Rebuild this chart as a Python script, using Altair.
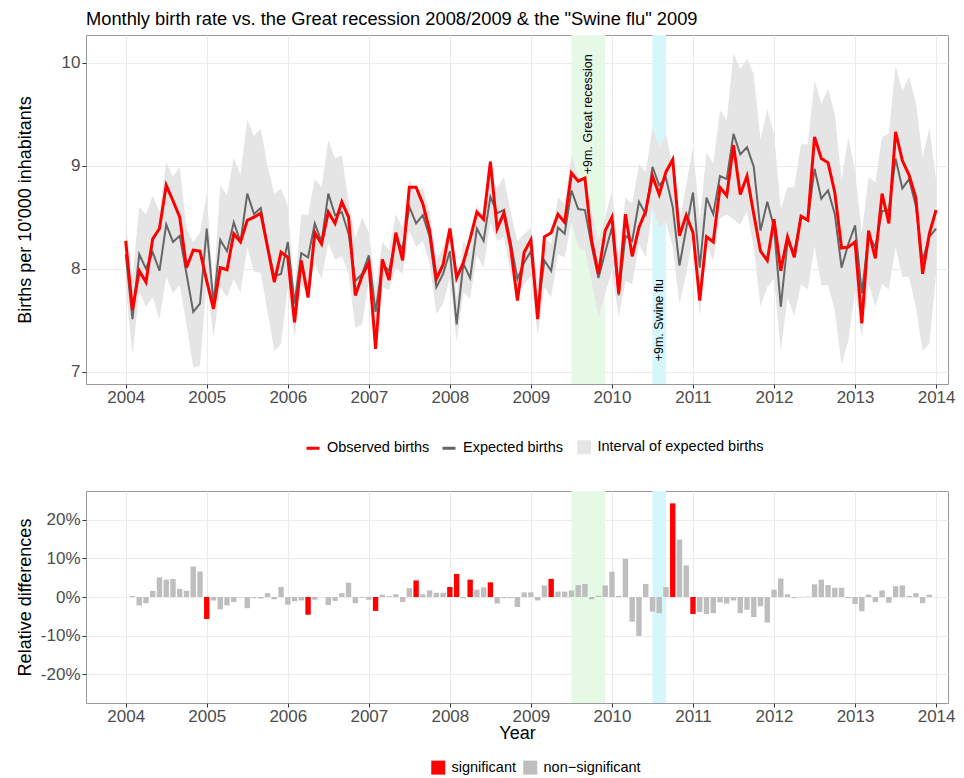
import altair as alt
import pandas as pd

# ---------------- data ----------------
observed = [
    8.27, 7.60, 7.98, 7.87, 8.29, 8.39, 8.81, 8.66, 8.50, 8.01, 8.18, 8.17,
    7.88, 7.61, 8.01, 7.99, 8.34, 8.26, 8.47, 8.50, 8.54, 8.21, 7.87, 8.16,
    8.11, 7.48, 8.08, 7.72, 8.35, 8.24, 8.55, 8.44, 8.65, 8.50, 7.74, 7.93,
    8.06, 7.22, 8.09, 7.89, 8.35, 8.08, 8.79, 8.79, 8.63, 8.37, 7.90, 8.04,
    8.39, 7.91, 8.06, 8.29, 8.55, 8.48, 9.04, 8.39, 8.54, 8.21, 7.69, 8.16,
    8.28, 7.51, 8.31, 8.35, 8.53, 8.45, 8.93, 8.85, 8.88, 8.27, 7.95, 8.37,
    8.50, 7.76, 8.53, 8.12, 8.40, 8.56, 8.90, 8.72, 8.94, 9.06, 8.32, 8.52,
    8.35, 7.69, 8.31, 8.26, 8.79, 8.71, 9.20, 8.72, 8.90, 8.53, 8.17, 8.08,
    8.48, 7.98, 8.31, 8.11, 8.51, 8.47, 9.28, 9.07, 9.03, 8.74, 8.20, 8.21,
    8.26, 7.47, 8.37, 8.10, 8.73, 8.44, 9.33, 9.05, 8.91, 8.69, 7.95, 8.34,
    8.57,
]
expected = [
    8.14, 7.51, 8.14, 8.00, 8.16, 7.98, 8.43, 8.26, 8.32, 7.95, 7.58, 7.66,
    8.39, 7.66, 8.28, 8.17, 8.45, 8.26, 8.73, 8.53, 8.59, 8.21, 7.93, 7.95,
    8.26, 7.66, 8.15, 8.11, 8.44, 8.26, 8.73, 8.52, 8.55, 8.34, 7.88, 7.95,
    8.13, 7.58, 8.04, 7.98, 8.29, 8.19, 8.60, 8.44, 8.52, 8.31, 7.82, 7.95,
    8.17, 7.46, 8.05, 7.91, 8.39, 8.27, 8.70, 8.54, 8.57, 8.26, 7.90, 8.06,
    8.17, 7.59, 8.08, 7.98, 8.40, 8.34, 8.76, 8.58, 8.57, 8.22, 7.91, 8.16,
    8.40, 7.74, 8.32, 8.27, 8.65, 8.53, 8.99, 8.81, 8.88, 8.60, 8.03, 8.39,
    8.74, 8.01, 8.69, 8.53, 8.90, 8.87, 9.31, 9.11, 9.18, 8.99, 8.37, 8.65,
    8.40, 7.63, 8.26, 8.16, 8.51, 8.47, 8.97, 8.68, 8.76, 8.53, 8.01, 8.24,
    8.42, 7.76, 8.32, 8.21, 8.56, 8.57, 9.07, 8.78, 8.87, 8.61, 8.08, 8.31,
    8.39,
]
interval_upper = [
    8.45, 7.90, 8.60, 8.53, 8.71, 8.55, 9.04, 8.89, 8.99, 8.39, 8.26, 8.35,
    8.73, 7.80, 8.81, 8.71, 9.08, 8.91, 9.45, 9.29, 9.36, 9.00, 8.73, 8.78,
    8.61, 7.78, 8.53, 8.52, 8.87, 8.79, 9.25, 9.07, 9.10, 8.65, 8.29, 8.50,
    8.35, 7.82, 8.26, 8.18, 8.53, 8.40, 8.87, 8.73, 8.79, 8.55, 8.08, 8.21,
    8.41, 7.72, 8.27, 8.16, 8.61, 8.52, 8.93, 8.78, 8.89, 8.55, 8.27, 8.34,
    8.39, 7.85, 8.31, 8.24, 8.69, 8.63, 9.10, 8.89, 8.86, 8.56, 8.27, 8.50,
    8.76, 8.14, 8.69, 8.63, 9.02, 8.94, 9.37, 9.18, 9.31, 8.99, 8.45, 8.82,
    9.18, 8.47, 9.13, 9.02, 9.54, 9.44, 10.09, 9.94, 10.04, 9.89, 9.25, 9.55,
    9.31, 8.58, 8.79, 8.79, 9.21, 9.21, 9.83, 9.60, 9.75, 9.50, 8.86, 9.28,
    8.95, 8.35, 8.89, 8.84, 9.28, 9.31, 9.97, 9.73, 9.86, 9.62, 9.08, 9.37,
    8.86,
]
interval_lower = [
    7.82, 7.17, 7.77, 7.63, 7.72, 7.51, 7.92, 7.76, 7.84, 7.46, 7.04, 7.06,
    7.88, 7.33, 7.82, 7.72, 7.90, 7.77, 8.21, 7.97, 7.96, 7.58, 7.20, 7.27,
    7.82, 7.33, 7.84, 7.76, 8.05, 7.90, 8.25, 8.09, 8.12, 7.95, 7.43, 7.46,
    7.88, 7.37, 7.82, 7.79, 8.01, 7.95, 8.37, 8.21, 8.27, 8.05, 7.56, 7.66,
    7.90, 7.29, 7.77, 7.71, 8.13, 8.01, 8.45, 8.27, 8.31, 7.95, 7.76, 7.85,
    7.93, 7.35, 7.82, 7.72, 8.14, 8.11, 8.45, 8.21, 8.18, 7.87, 7.53, 7.76,
    7.98, 7.53, 7.88, 7.85, 8.24, 8.11, 8.59, 8.40, 8.45, 8.21, 7.66, 7.95,
    8.31, 7.53, 8.24, 8.08, 8.49, 8.53, 8.48, 8.43, 8.56, 8.21, 7.63, 7.82,
    7.90, 7.20, 7.72, 7.54, 7.85, 7.80, 8.22, 7.84, 7.84, 7.59, 7.07, 7.30,
    7.79, 7.33, 7.85, 7.63, 7.85, 7.80, 8.21, 7.92, 7.92, 7.63, 7.20, 7.27,
    7.95,
]
rel_diff = [
    0.0, 0.3, -2.2, -1.6, 1.6, 5.1, 4.5, 4.7, 2.1, 1.6, 7.9, 6.6,
    -5.7, -0.9, -3.2, -2.2, -1.3, -0.1, -2.9, -0.3, -0.4, 1.0, -0.6, 2.6,
    -2.0, -1.1, -0.9, -4.6, -0.7, 0.0, -2.1, -1.0, 1.0, 3.7, -1.6, -0.2,
    -0.7, -3.6, 0.6, 0.2, 0.7, -1.3, 2.3, 4.3, 0.7, 1.7, 1.1, 1.1,
    2.6, 6.0, -0.3, 4.5, 1.9, 2.5, 3.8, -1.7, -0.3, -0.3, -2.6, 1.2,
    1.2, -0.9, 3.0, 4.7, 1.4, 1.4, 1.7, 3.1, 3.4, -0.6, 0.3, 3.0,
    6.6, 0.3, 9.9, -6.4, -10.1, 3.4, -3.8, -4.2, 2.6, 24.3, 14.9, 8.2,
    -4.4, -3.9, -4.4, -4.2, -1.4, -1.7, -0.9, -4.2, -3.3, -5.2, -2.4, -6.6,
    1.9, 4.8, 0.7, -0.3, -0.1, 0.1, 3.3, 4.5, 3.1, 2.4, 2.4, -0.3,
    -1.8, -3.7, 0.6, -1.3, 1.7, -1.5, 2.8, 3.0, 0.3, 1.0, -1.6, 0.6,
    0.0,
]
significant_months = [12, 27, 37, 43, 48, 49, 51, 54, 63, 81, 84]

year_ticks = list(range(2004, 2015))
birth_ticks = [7, 8, 9, 10]
pct_ticks = [-20, -10, 0, 10, 20]

band_names = ["+9m. Great recession", "+9m. Swine flu"]
band_start = [2009.5, 2010.5]
band_end = [2009 + 11 / 12, 2010 + 8 / 12]
label_y = [9.5, 7.5]

title_text = 'Monthly birth rate vs. the Great recession 2008/2009 & the "Swine flu" 2009'

# ---------------- tables ----------------
n = len(observed)
t = [2004 + i / 12 for i in range(n)]
df = pd.DataFrame({
    "t": t,
    "Observed births": observed,
    "Expected births": expected,
    "lower": interval_lower,
    "upper": interval_upper,
    "rel": rel_diff,
    "sig": ["significant" if i in significant_months else "non\u2212significant" for i in range(n)],
})
bands = pd.DataFrame({"name": band_names, "start": band_start, "end": band_end,
                      "mid": [(a + b) / 2 for a, b in zip(band_start, band_end)],
                      "ly": label_y})

FONT = "Liberation Sans"
W = 862
PX_PER_YEAR = 81.04
X_DOMAIN = [2003.51, 2003.51 + W / PX_PER_YEAR]
H_TOP = 349
H_BOT = 212

def xaxis(title=None):
    return alt.Axis(values=year_ticks, format="d", title=title, labelFontSize=17,
                    labelPadding=1, titlePadding=0)

xscale = alt.Scale(domain=X_DOMAIN, nice=False, zero=False, padding=0)

def band_layers(title=None):
    green = alt.Chart(bands).transform_filter(alt.datum.name == band_names[0]).mark_rect(
        color="#E6F9E6").encode(x=alt.X("start:Q", scale=xscale, axis=xaxis(title)), x2="end:Q")
    blue = alt.Chart(bands).transform_filter(alt.datum.name == band_names[1]).mark_rect(
        color="#D5F6FA").encode(x=alt.X("start:Q", scale=xscale), x2="end:Q")
    return green, blue

yscale_top = alt.Scale(domain=[6.88, 10.27], nice=False, zero=False, padding=0)
ytop_axis = alt.Axis(values=birth_ticks, format="d", title="Births per 10'000 inhabitants",
                     titleX=-61, titleBaseline="middle")

g1, b1 = band_layers()

area = alt.Chart(df).transform_calculate(band="'Interval of expected births'").mark_area(
    opacity=1).encode(
    x=alt.X("t:Q", scale=xscale),
    y=alt.Y("lower:Q", scale=yscale_top, axis=ytop_axis),
    y2="upper:Q",
    fill=alt.Fill("band:N", scale=alt.Scale(domain=["Interval of expected births"], range=["#E5E5E5"]),
                  legend=alt.Legend(title=None, orient="none", legendX=491, legendY=405,
                                    direction="horizontal", symbolType="square", symbolSize=196,
                                    symbolStrokeWidth=0, labelFontSize=14.5, labelOffset=6,
                                    labelLimit=400, padding=0)),
)

stroke_scale = alt.Scale(domain=["Observed births", "Expected births"], range=["#FF0000", "#666666"])
stroke_legend = alt.Legend(title=None, orient="none", legendX=219, legendY=405,
                           direction="horizontal", symbolType="stroke", symbolSize=169,
                           symbolStrokeWidth=3, labelFontSize=14.5, labelOffset=6,
                           labelLimit=400, columnPadding=6, padding=0)

exp_line = alt.Chart(df).transform_fold(["Observed births", "Expected births"]).transform_filter(
    alt.datum.key == "Expected births").mark_line(strokeWidth=2).encode(
    x=alt.X("t:Q", scale=xscale),
    y=alt.Y("value:Q", scale=yscale_top),
    stroke=alt.Stroke("key:N", scale=stroke_scale, legend=stroke_legend),
)
obs_line = alt.Chart(df).transform_fold(["Observed births", "Expected births"]).transform_filter(
    alt.datum.key == "Observed births").mark_line(strokeWidth=3).encode(
    x=alt.X("t:Q", scale=xscale),
    y=alt.Y("value:Q", scale=yscale_top),
    stroke=alt.Stroke("key:N", scale=stroke_scale, legend=stroke_legend),
)
labels = alt.Chart(bands).mark_text(angle=270, fontSize=12.5, color="black", font=FONT,
                                    align="center", baseline="middle").encode(
    x=alt.X("mid:Q", scale=xscale), y=alt.Y("ly:Q", scale=yscale_top), text="name:N")

top = alt.layer(g1, b1, area, exp_line, obs_line, labels).properties(
    width=W, height=H_TOP,
    title=alt.TitleParams(title_text, anchor="start", frame="group", fontSize=18.3,
                          fontWeight="normal", font=FONT, color="black", offset=6),
)

# ---------------- bottom panel ----------------
g2, b2 = band_layers("Year")
yscale_bot = alt.Scale(domain=[-27.5, 27.5], nice=False, zero=False, padding=0)
bars = alt.Chart(df).mark_bar(size=5.4).encode(
    x=alt.X("t:Q", scale=xscale),
    y=alt.Y("rel:Q", scale=yscale_bot,
            axis=alt.Axis(values=pct_ticks, labelExpr="datum.value + '%'",
                          title="Relative differences", titleX=-61, titleBaseline="middle")),
    y2=alt.datum(0),
    color=alt.Color("sig:N", scale=alt.Scale(domain=["significant", "non\u2212significant"],
                                             range=["#FF0000", "#BEBEBE"]),
                    legend=alt.Legend(title=None, orient="none", legendX=345, legendY=269,
                                      direction="horizontal", symbolType="square", symbolSize=196,
                                      symbolStrokeWidth=0, labelFontSize=14.5, labelOffset=6,
                                      columnPadding=7, padding=0)),
)
bottom = alt.layer(g2, b2, bars).properties(width=W, height=H_BOT)

chart = alt.vconcat(top, bottom, spacing=107, bounds="flush").resolve_scale(
    color="independent", fill="independent", stroke="independent"
).resolve_legend(
    color="independent", fill="independent", stroke="independent"
).properties(
    padding={"left": 7, "top": 1, "right": 0, "bottom": 0}
).configure_axis(
    labelFont=FONT, labelFontSize=17, labelColor="#4D4D4D", tickColor="#333333", tickSize=4,
    gridColor="#EBEBEB", gridWidth=1, domain=False, titleFont=FONT, titleFontSize=18,
    titleColor="black", titleFontWeight="normal",
).configure_view(stroke="#999999", strokeWidth=1).configure_legend(
    labelFont=FONT, labelColor="black"
).configure_text(font=FONT)

chart.save("out.html", embed_options={"renderer": "svg", "actions": False})
